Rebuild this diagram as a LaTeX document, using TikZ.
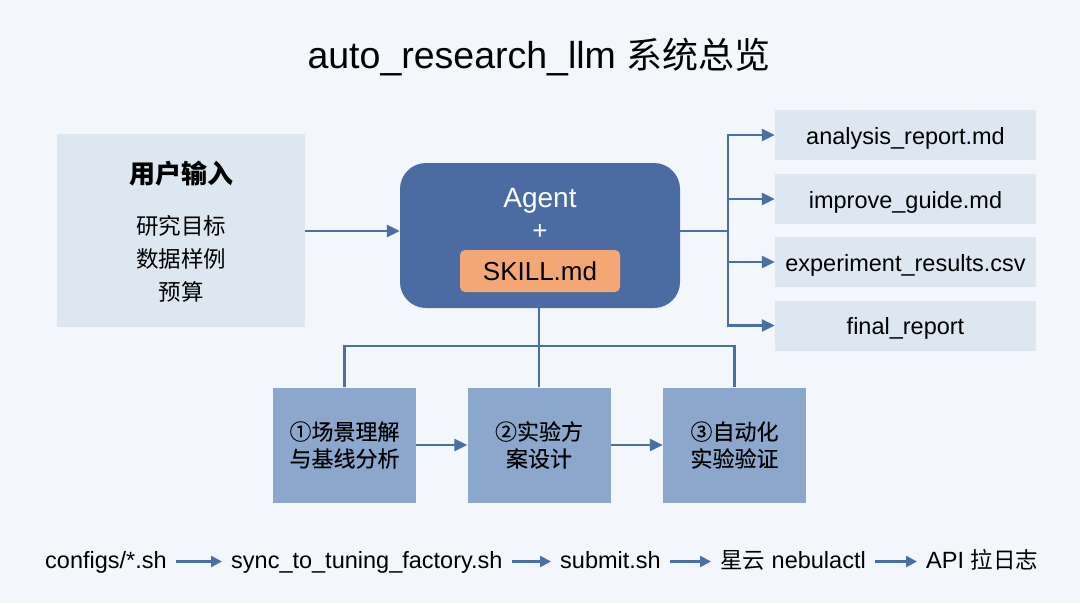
\documentclass[tikz,border=0pt]{standalone}
\usepackage{fontspec}
\setmainfont{Liberation Sans}
\newfontfamily\cjk{Noto Sans CJK SC}
\newfontfamily\cjkm[FakeBold=0.2]{Noto Sans CJK SC}
\usetikzlibrary{arrows.meta,calc}
\definecolor{bg}{HTML}{F3F6FA}
\definecolor{lightbox}{HTML}{DDE7F2}
\definecolor{agentblue}{HTML}{4A6CA3}
\definecolor{stepblue}{HTML}{8BA7CB}
\definecolor{skillor}{HTML}{F2A775}
\definecolor{linec}{HTML}{4A6FA5}
\tikzset{
  conn/.style={draw=linec,line width=2.5pt},
  arr/.style={conn,-{Triangle[length=13pt,width=12pt]}},
  outbox/.style={fill=lightbox,minimum width=261pt,minimum height=50pt,inner sep=0pt,text height=20pt,text depth=2pt,font=\fontsize{23.5}{26}\selectfont},
  stepbox/.style={fill=stepblue,minimum width=143pt,minimum height=115pt,inner sep=0pt,align=center,font=\cjkm\fontsize{22}{27}\selectfont},
  chaintxt/.style={inner sep=0pt,anchor=base west,text height=18pt,text depth=5pt,font=\fontsize{23.5}{26}\selectfont},
  chainarr/.style={draw=linec,line width=2.5pt,-{Triangle[length=11pt,width=11pt]},shorten <=9pt,shorten >=9pt},
}
\begin{document}
\begin{tikzpicture}[x=1pt,y=-1pt]
\fill[bg] (0,0) rectangle (1080,603);
\useasboundingbox (0,0) rectangle (1080,603);
% title
\node[anchor=base,inner sep=0pt,font=\fontsize{37.5}{40}\selectfont] (title) at (539,68) {auto\_research\_llm {\cjk\fontsize{36}{40}\selectfont 系统总览}};
% user input
\node[fill=lightbox,minimum width=248pt,minimum height=193pt,inner sep=0pt] (user) at (181,230.5) {};
\node[inner sep=0pt,font=\cjk\fontsize{26}{30}\selectfont\bfseries] (usert) at (181,173.5) {用户输入};
\node[inner sep=0pt,font=\cjk\fontsize{22.5}{33}\selectfont,align=center] (userl) at (181,258.5) {研究目标\\数据样例\\预算};
% agent
\node[fill=agentblue,rounded corners=26pt,minimum width=280pt,minimum height=145pt,inner sep=0pt] (agent) at (540,235.5) {};
\node[anchor=base,inner sep=0pt,text=white,font=\fontsize{28}{30}\selectfont] (agentt) at (540,207) {Agent};
\node[anchor=base,inner sep=0pt,text=white,font=\fontsize{26}{28}\selectfont] (plus) at (540,239.5) {+};
\node[fill=skillor,rounded corners=5pt,minimum width=160pt,minimum height=42pt,inner sep=0pt,text height=19pt,text depth=1pt,font=\fontsize{26}{28}\selectfont] (skill) at (540,271) {SKILL.md};
\draw[arr] (user.east |- 0,231) -- (agent.west |- 0,231);
% outputs
\node[outbox] (o1) at (905.5,135) {analysis\_report.md};
\node[outbox] (o2) at (905.5,199) {improve\_guide.md};
\node[outbox] (o3) at (905.5,262) {experiment\_results.csv};
\node[outbox] (o4) at (905.5,325.5) {final\_report};
\coordinate (sp) at (728,231);
\draw[conn] (agent.east |- sp) -- (sp);
\draw[arr] (sp) |- (o1.west);
\draw[arr] (sp) |- (o2.west);
\draw[arr] (sp) |- (o3.west);
\draw[arr] (sp) |- (o4.west);
% steps
\node[stepbox] (s1) at (344.5,445) {①场景理解\\与基线分析};
\node[stepbox] (s2) at (539,445) {②实验方\\案设计};
\node[stepbox] (s3) at (734.5,445) {③自动化\\实验验证};
\coordinate (hb) at (540,346);
\draw[conn] (agent.south -| s2.north) -- (s2.north);
\draw[conn] (s1.north) -- (s1.north |- hb) -- (s3.north |- hb) -- (s3.north);
\draw[arr] (s1.east) -- (s2.west);
\draw[arr] (s2.east) -- (s3.west);
% bottom chain
\node[chaintxt] (c1) at (45,568) {configs/*.sh};
\node[chaintxt] (c2) at (231,568) {sync\_to\_tuning\_factory.sh};
\node[chaintxt] (c3) at (560,568) {submit.sh};
\node[chaintxt] (c4) at (720,568) {{\cjk\fontsize{22.5}{26}\selectfont 星云} nebulactl};
\node[chaintxt] (c5) at (926,568) {API {\cjk\fontsize{22.5}{26}\selectfont 拉日志}};
\draw[chainarr] (c1.east) -- (c2.west);
\draw[chainarr] (c2.east) -- (c3.west);
\draw[chainarr] (c3.east) -- (c4.west);
\draw[chainarr] (c4.east) -- (c5.west);
\end{tikzpicture}
\end{document}
